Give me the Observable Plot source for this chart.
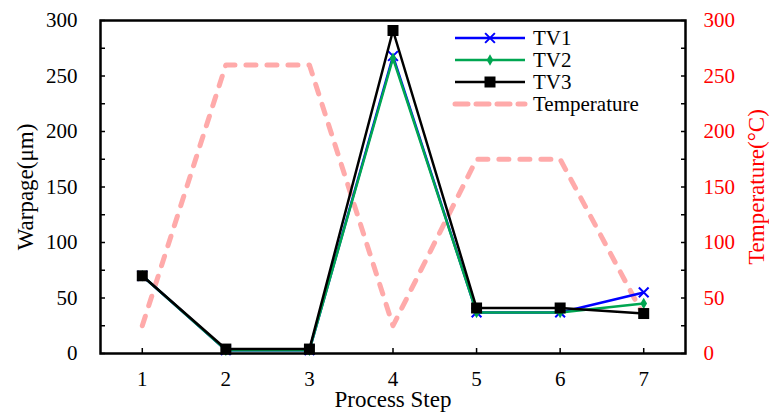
<!DOCTYPE html>
<html><head><meta charset="utf-8">
<script src="https://cdn.jsdelivr.net/npm/d3@7"></script>
<script src="https://cdn.jsdelivr.net/npm/@observablehq/plot@0.6"></script>
<style>
body{margin:0;background:#fff}
#chart{position:relative;width:769px;height:412px}
#chart svg, #chart svg text{font-family:"Liberation Serif","Times New Roman",serif !important}
</style>
</head><body><div id="chart"></div>
<script>
const steps = [1, 2, 3, 4, 5, 6, 7];
const tv1 = [70, 3, 3, 268, 37, 37, 55];
const tv2 = [70, 3, 3, 266, 37, 37, 45];
const tv3 = [70, 4, 4, 291, 41, 41, 36];
const temperature = [25, 260, 260, 25, 175, 175, 34];
const yTickLabels = [0, 50, 100, 150, 200, 250, 300];
const yTickMarks = [0, 25, 50, 75, 100, 125, 150, 175, 200, 225, 250, 275, 300];
const xLabel = "Process Step";
const yLabelLeft = "Warpage(μm)";
const yLabelRight = "Temperature(°C)";
const seriesNames = ["TV1", "TV2", "TV3", "Temperature"];
const seriesColors = ["#0000ff", "#00a651", "#000000", "#ffaaaa"];

const font = "Liberation Serif";
const rows = (vals) => steps.map((s, i) => ({step: s, v: vals[i]}));
const d1 = rows(tv1), d2 = rows(tv2), d3r = rows(tv3), dT = rows(temperature);

const chart = Plot.plot({
  width: 769, height: 412,
  marginLeft: 100, marginRight: 84, marginTop: 20, marginBottom: 59,
  style: {fontFamily: font, fontSize: "21px", background: "#fff", color: "#000"},
  x: {domain: [0.5, 7.5]},
  y: {domain: [0, 300]},
  marks: [
    Plot.line(dT, {x: "step", y: "v", stroke: seriesColors[3], strokeWidth: 5, strokeDasharray: "10,11", strokeLinecap: "round"}),
    Plot.line(d1, {x: "step", y: "v", stroke: seriesColors[0], strokeWidth: 2.5}),
    Plot.dot(d1, {x: "step", y: "v", symbol: "times", stroke: seriesColors[0], strokeWidth: 2, r: 4.5}),
    Plot.line(d2, {x: "step", y: "v", stroke: seriesColors[1], strokeWidth: 2.5}),
    Plot.dot(d2, {x: "step", y: "v", symbol: "diamond", fill: seriesColors[1], r: 3.5}),
    Plot.line(d3r, {x: "step", y: "v", stroke: seriesColors[2], strokeWidth: 2.5}),
    Plot.dot(d3r, {x: "step", y: "v", symbol: "square", fill: seriesColors[2], r: 6.2}),
    // inward tick marks
    Plot.axisY({anchor: "left", ticks: yTickMarks, tickSize: 5, text: null, label: null, dx: 5, strokeWidth: 1.5}),
    Plot.axisY({anchor: "right", ticks: yTickMarks, tickSize: 5, text: null, label: null, dx: -5, strokeWidth: 1.5}),
    Plot.axisX({anchor: "bottom", ticks: steps, tickSize: 5, text: null, label: null, dy: -5, strokeWidth: 1.5}),
    // tick labels
    Plot.axisY({anchor: "left", ticks: yTickLabels, tickSize: 0, tickPadding: 23, label: null, fontFamily: font, fontSize: 21}),
    Plot.axisY({anchor: "right", ticks: yTickLabels, tickSize: 0, tickPadding: 18, label: null, fill: "red", fontFamily: font, fontSize: 21}),
    Plot.axisX({anchor: "bottom", ticks: steps, tickSize: 0, tickPadding: 18, label: null, tickFormat: d => String(d), fontFamily: font, fontSize: 21}),
    Plot.frame({stroke: "#000", strokeWidth: 2.5}),
    // axis titles
    Plot.text([xLabel], {text: d => d, frameAnchor: "bottom", lineAnchor: "bottom", dy: 53, fontSize: 23, fontFamily: font}),
    Plot.text([yLabelLeft], {text: d => d, frameAnchor: "left", textAnchor: "middle", lineAnchor: "middle", rotate: -90, dx: -74.5, fontSize: 23, fontFamily: font}),
    Plot.text([yLabelRight], {text: d => d, frameAnchor: "right", textAnchor: "middle", lineAnchor: "middle", rotate: -90, dx: 71, fontSize: 23, fill: "red", fontFamily: font})
  ]
});
document.getElementById("chart").appendChild(chart);

// legend overlay inside the plot area
const leg = d3.select("#chart").append("svg")
  .style("position", "absolute").style("left", "450px").style("top", "26px")
  .attr("width", 210).attr("height", 92)
  .attr("font-family", font).attr("font-size", 21);
const rowH = 22;
seriesNames.forEach((name, i) => {
  const g = leg.append("g").attr("transform", `translate(0,${12 + i * rowH})`);
  const line = g.append("line").attr("x1", 5).attr("x2", 75).attr("y1", 0).attr("y2", 0)
    .attr("stroke", seriesColors[i]).attr("stroke-width", i === 3 ? 5 : 2.5);
  if (i === 3) line.attr("stroke-dasharray", "13,8").attr("stroke-linecap", "round");
  if (i === 0) g.append("path").attr("d", d3.symbol(d3.symbolTimes, 64)()).attr("transform", "translate(40,0)").attr("stroke", seriesColors[0]).attr("stroke-width", 2).attr("fill", "none");
  if (i === 1) g.append("path").attr("d", d3.symbol(d3.symbolDiamond, 38)()).attr("transform", "translate(40,0)").attr("fill", seriesColors[1]);
  if (i === 2) g.append("path").attr("d", d3.symbol(d3.symbolSquare, 121)()).attr("transform", "translate(40,0)").attr("fill", seriesColors[2]);
  g.append("text").attr("x", 83).attr("dy", "0.35em").attr("font-family", font).text(name);
});
</script>
</body></html>
